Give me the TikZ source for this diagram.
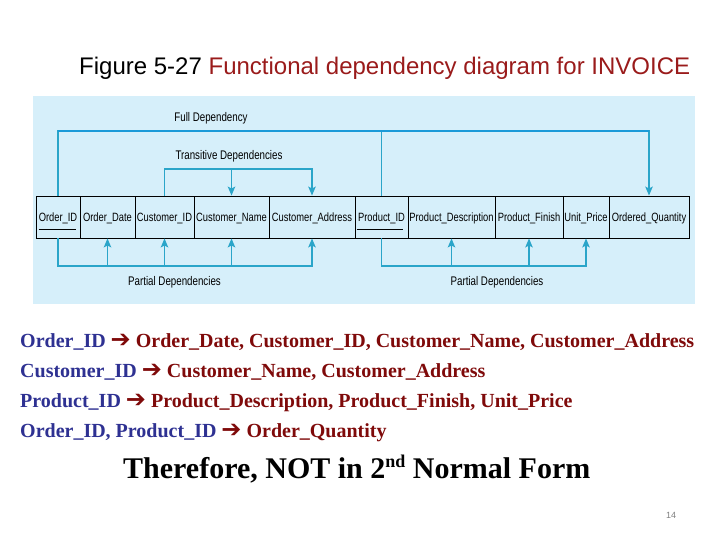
\documentclass[tikz,border=0pt]{standalone}
\usepackage{fontspec}
\setmainfont{Liberation Serif}
\newfontfamily\arialf{Liberation Sans}
\newfontfamily\narrowf[FakeStretch=0.78]{Liberation Sans}
\newfontfamily\dejavuf{DejaVu Sans}
\usetikzlibrary{arrows.meta,calc}
\definecolor{panel}{HTML}{D6EFFA}
\definecolor{depc}{HTML}{2AA5C9}
\definecolor{fulldep}{HTML}{1B9AD8}
\definecolor{tblue}{HTML}{2E3192}
\definecolor{tred}{HTML}{7F0A0A}
\definecolor{titlered}{HTML}{9A1B1B}
\newcommand\arr{{\dejavuf\fontsize{24}{24}\selectfont\color{tred}➔}}
\begin{document}
\begin{tikzpicture}[x=1pt,y=-1pt,
  cell/.style={draw=black,line width=0.9pt,minimum height=42pt,inner sep=0pt,
    text height=9pt,text depth=0pt,
    font=\narrowf\fontsize{12}{14}\selectfont},
  deplabel/.style={font=\narrowf\fontsize{12.5}{14}\selectfont,inner sep=0pt},
  depline/.style={draw=depc,line width=1.3pt},
  deparrow/.style={depline,-{Stealth[length=9pt,width=7.5pt,inset=2pt]}},
  keyline/.style={draw=black,line width=1.6pt},
  btext/.style={anchor=base west,inner sep=0pt,font=\bfseries\fontsize{20}{24}\selectfont}]
\useasboundingbox (0,0) rectangle (720,540);
\fill[white] (0,0) rectangle (720,540);
% title
\node[anchor=base west,inner sep=0pt,font=\arialf\fontsize{24}{28}\selectfont] (title) at (79,75)
  {Figure 5-27 \textcolor{titlered}{Functional dependency diagram for INVOICE}};
% panel
\fill[panel] (33,96) rectangle (695,304);
% cells
\node[cell,minimum width=44pt] (oid) at (58,217) {Order\_ID};
\node[cell,minimum width=55pt] (od) at (107.5,217) {Order\_Date};
\node[cell,minimum width=59pt] (cid) at (164.5,217) {Customer\_ID};
\node[cell,minimum width=75pt] (cn) at (231.5,217) {Customer\_Name};
\node[cell,minimum width=86pt] (ca) at (312,217) {Customer\_Address};
\node[cell,minimum width=53pt] (pid) at (381.5,217) {Product\_ID};
\node[cell,minimum width=87pt] (pd) at (451.5,217) {Product\_Description};
\node[cell,minimum width=68pt] (pf) at (529,217) {Product\_Finish};
\node[cell,minimum width=46pt] (up) at (586,217) {Unit\_Price};
\node[cell,minimum width=80pt] (oq) at (649,217) {Ordered\_Quantity};
% key underlines
\draw[keyline] ([xshift=3pt,yshift=9pt]oid.south west) -- ([xshift=-4pt,yshift=9pt]oid.south east);
\draw[keyline] ([xshift=2pt,yshift=9pt]pid.south west) -- ([xshift=-5pt,yshift=9pt]pid.south east);
% helper levels
\coordinate (fy) at (0,131);
\coordinate (ty) at (0,169);
\coordinate (py) at (0,266);
% full dependency
\draw[deparrow] (oid.north) |- (oq.north |- fy) -- (oq.north);
\draw[depline] (pid.north) -- (pid.north |- fy);
\draw[draw=fulldep,line width=2.2pt] (oid.north |- fy) -- (oq.north |- fy);
\node[deplabel] (fulllab) at (211,118) {Full Dependency};
% transitive
\draw[deparrow] (cid.north) |- (ca.north |- ty) -- (ca.north);
\draw[deparrow] (cn.north |- ty) -- (cn.north);
\node[deplabel] (translab) at (229,156) {Transitive Dependencies};
% partial left
\draw[deparrow] (oid.south) |- (ca.south |- py) -- (ca.south);
\draw[deparrow] (od.south |- py) -- (od.south);
\draw[deparrow] (cid.south |- py) -- (cid.south);
\draw[deparrow] (cn.south |- py) -- (cn.south);
\node[deplabel] (plab1) at (174.5,282) {Partial Dependencies};
% partial right
\draw[deparrow] (pid.south) |- (up.south |- py) -- (up.south);
\draw[deparrow] (pd.south |- py) -- (pd.south);
\draw[deparrow] (pf.south |- py) -- (pf.south);
\node[deplabel] (plab2) at (497,282) {Partial Dependencies};
% dependency text
\node[btext] (l1) at (20,347) {\textcolor{tblue}{Order\_ID} \arr{} \textcolor{tred}{Order\_Date, Customer\_ID, Customer\_Name, Customer\_Address}};
\node[btext] (l2) at (20,377) {\textcolor{tblue}{Customer\_ID} \arr{} \textcolor{tred}{Customer\_Name, Customer\_Address}};
\node[btext] (l3) at (20,407) {\textcolor{tblue}{Product\_ID} \arr{} \textcolor{tred}{Product\_Description, Product\_Finish, Unit\_Price}};
\node[btext] (l4) at (20,437) {\textcolor{tblue}{Order\_ID, Product\_ID} \arr{} \textcolor{tred}{Order\_Quantity}};
\node[anchor=base west,inner sep=0pt,font=\bfseries\fontsize{30}{34}\selectfont] (concl) at (123,478)
  {Therefore, NOT in 2\raisebox{0.75ex}{\fontsize{18}{18}\selectfont nd} Normal Form};
\node[inner sep=0pt,font=\arialf\fontsize{9}{10}\selectfont,text=gray] (pg) at (671,515) {14};
\end{tikzpicture}
\end{document}
